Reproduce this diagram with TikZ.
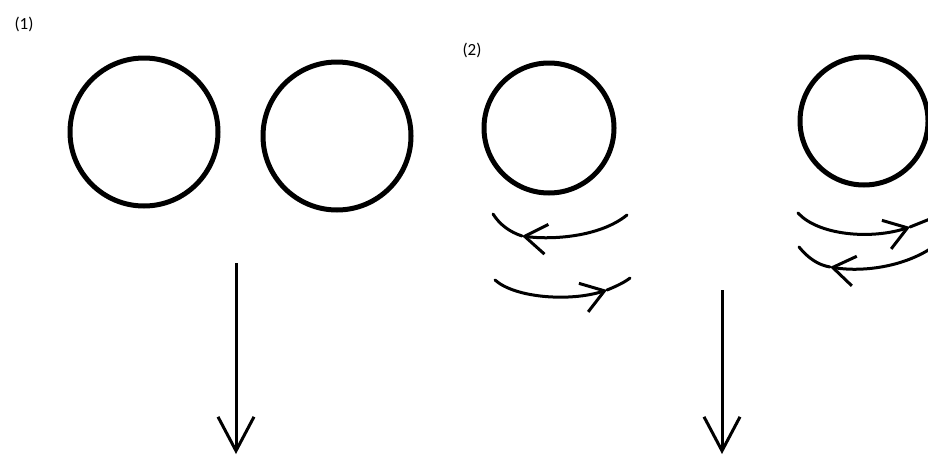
\documentclass[tikz,border=0pt]{standalone}
\usepackage{fontspec}
\setmainfont{Carlito}
\usetikzlibrary{arrows.meta}

\begin{document}
\begin{tikzpicture}[x=1pt,y=-1pt,
    ball/.style={draw=black,line width=5pt},
    swirl/.style={draw=black,line width=3pt,line cap=round},
    lbl/.style={font=\fontsize{17}{19}\selectfont,inner sep=0pt},
    fall/.style={line width=3pt,-{Straight Barb[length=34pt,width=36pt,line width=3pt]}},
    spin/.style={swirl,-{Straight Barb[length=22pt,width=30pt,line width=3pt]}}]
    \useasboundingbox (0,0) rectangle (928,455);
    % case (1)
    \node[lbl] (one) at (24,24) {(1)};
    \node[ball,circle,minimum size=148pt] (b1) at (144,132) {};
    \node[ball,circle,minimum size=148pt] (b2) at (337,136) {};
    \coordinate (f1s) at (236,263); \coordinate (f1e) at (236,454);
    \draw[fall] (f1s) -- (f1e);
    % case (2)
    \node[lbl] (two) at (472,50) {(2)};
    \node[ball,circle,minimum size=130pt] (b3) at (549,128) {};
    \node[ball,circle,minimum size=128pt] (b4) at (864,121) {};
    \coordinate (f2s) at (722,290); \coordinate (f2e) at (722,454);
    \draw[fall] (f2s) -- (f2e);
    % spin under left ball
    \coordinate (l1) at (493,214); \coordinate (t1) at (522,236); \coordinate (r1) at (627,215);
    \draw[swirl] (l1) .. controls (500,225) and (510,232) .. (t1);
    \draw[spin] (r1) .. controls (600,237) and (552,240) .. (t1);
    \coordinate (l2) at (495,280); \coordinate (t2) at (607,290); \coordinate (r2) at (630,278);
    \draw[spin] (l2) .. controls (515,298) and (570,302) .. (t2);
    \draw[swirl] (t2) .. controls (617,286) and (625,282) .. (r2);
    % spin under right ball
    \coordinate (l3) at (798,213); \coordinate (t3) at (910,227); \coordinate (r3) at (930,219);
    \draw[spin] (l3) .. controls (818,235) and (870,240) .. (t3);
    \draw[swirl] (t3) -- (r3);
    \coordinate (l4) at (799,247); \coordinate (t4) at (830,267); \coordinate (r4) at (930,249);
    \draw[swirl] (l4) .. controls (808,258) and (818,265) .. (t4);
    \draw[spin] (r4) .. controls (900,268) and (860,272) .. (t4);
\end{tikzpicture}
\end{document}
